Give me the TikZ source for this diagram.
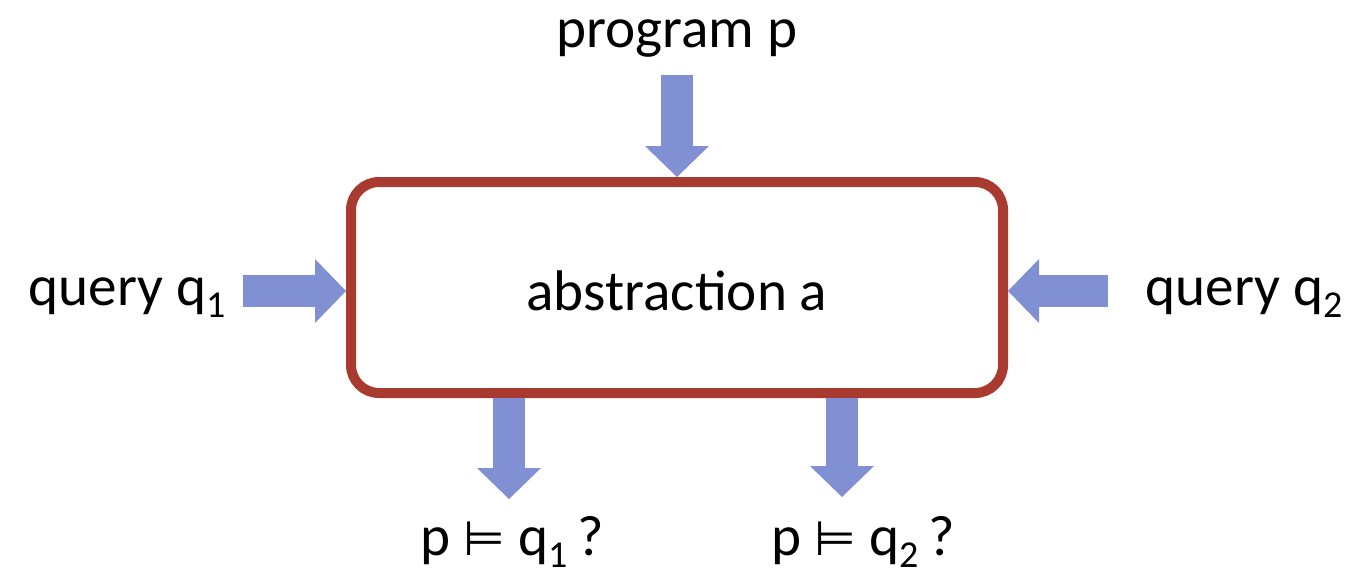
\documentclass[tikz,border=0pt]{standalone}
\usepackage{fontspec}
\setmainfont{Carlito}
\newfontfamily\symfont{DejaVu Sans}
\usetikzlibrary{arrows.meta,positioning}
\definecolor{boxred}{RGB}{168,58,48}
\definecolor{flowblue}{RGB}{129,144,211}
\newcommand{\lowidx}[1]{\raisebox{-0.22em}{\fontsize{19}{20}\selectfont #1}}
\newcommand{\entails}{{\symfont\fontsize{24}{26}\selectfont ⊨}}

\tikzset{
  labeltext/.style={font=\fontsize{28.6}{34}\selectfont, inner sep=0pt, anchor=base},
  flow/.style={draw=flowblue, line width=16pt,
    -{Triangle[length=15.5pt,width=32pt,line width=0pt]}},
}

\begin{document}
\begin{tikzpicture}[x=0.5pt,y=-0.5pt]
  \useasboundingbox (0,0) rectangle (1349,574);
  % the abstraction box
  \node[draw=boxred, line width=5pt, rounded corners=14pt,
    minimum width=326pt, minimum height=105.5pt, inner sep=0pt] (absbox) at (677,287.5) {};
  \node[labeltext] (abslabel) at (677,310) {abstraction a};
  % inputs and outputs
  \node[labeltext] (prog) at (677,47) {program p};
  \node[labeltext] (qone) at (127,305) {query q\lowidx{1}};
  \node[labeltext] (qtwo) at (1244,305) {query q\lowidx{2}};
  \node[labeltext] (ansone) at (512,555) {p \entails{} q\lowidx{1}\,?};
  \node[labeltext] (anstwo) at (863,555) {p \entails{} q\lowidx{2}\,?};
  \coordinate (progtail) at (677,75);
  \coordinate (qonetail) at (243,291);
  \coordinate (qtwotail) at (1108,291);
  \coordinate (outone) at (509,499);
  \coordinate (outtwo) at (842,497);
  \draw[flow] (progtail) -- (absbox.north);
  \draw[flow] (qonetail) -- (absbox.west |- qonetail);
  \draw[flow] (qtwotail) -- (absbox.east |- qtwotail);
  \draw[flow] (absbox.south -| outone) -- (outone);
  \draw[flow] (absbox.south -| outtwo) -- (outtwo);
\end{tikzpicture}
\end{document}
